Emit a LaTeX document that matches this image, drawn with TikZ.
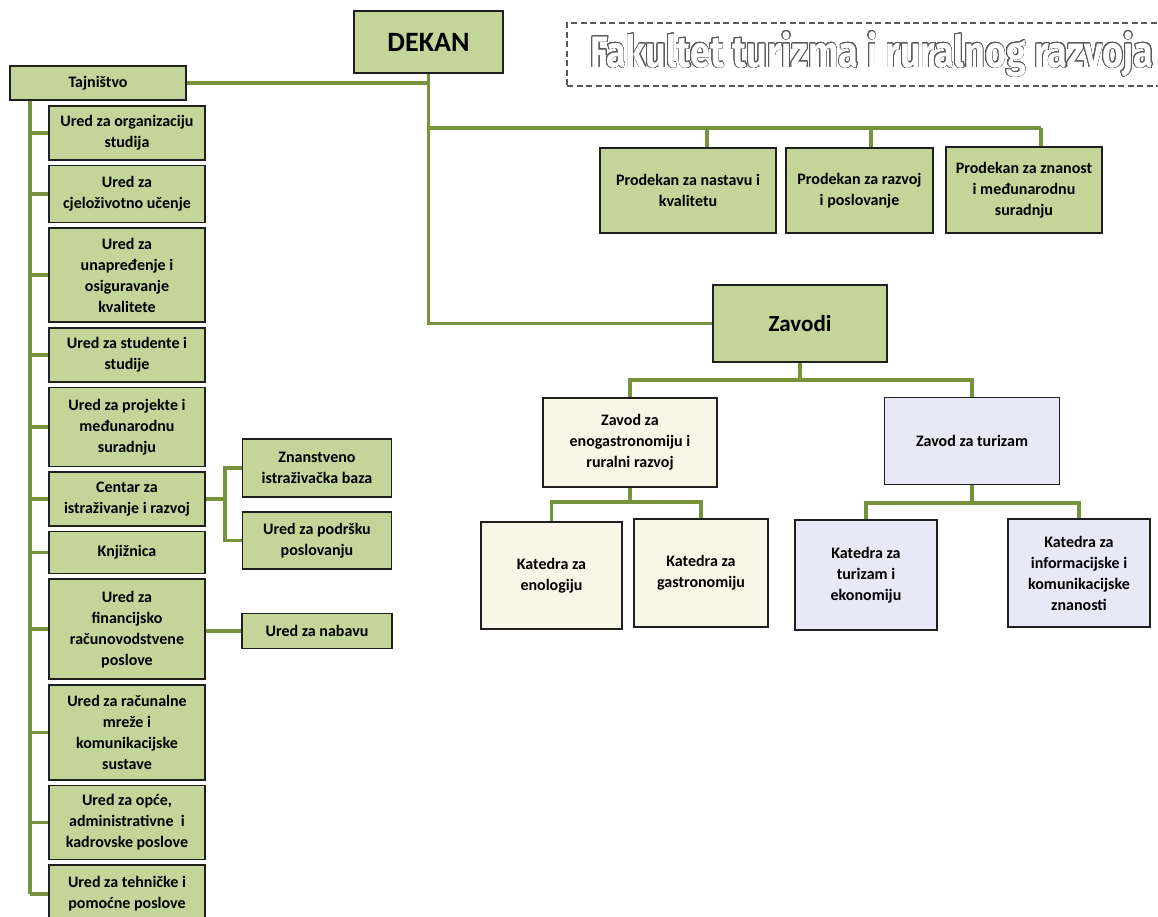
\documentclass[tikz,border=0pt]{standalone}
\usepackage{fontspec}
\setmainfont{Carlito}
\newfontfamily\naslovfont{Fira Sans}[FakeStretch=0.82]
\usepackage{contour}
\usetikzlibrary{positioning,calc}
\definecolor{greenfill}{HTML}{C4D59A}
\definecolor{creamfill}{HTML}{F8F6E6}
\definecolor{lilacfill}{HTML}{E8E8F7}
\definecolor{linkgreen}{HTML}{76923C}
\definecolor{boxline}{HTML}{1F1F1F}
\definecolor{titleline}{HTML}{5A5A5A}
\newcommand{\boxfont}{\fontsize{16}{21}\selectfont\bfseries}
\contourlength{0.75pt}
\contournumber{24}

\begin{document}
\begin{tikzpicture}[x=1pt, y=-1pt, node distance=4pt]
\tikzstyle{box}=[draw=boxline, line width=1.6pt, fill=greenfill, align=center, inner sep=2pt, font=\boxfont]
\tikzstyle{ured}=[box, minimum width=156pt]
\tikzstyle{cream}=[box, fill=creamfill]
\tikzstyle{lilac}=[box, fill=lilacfill]
\tikzstyle{link}=[draw=linkgreen, line width=3.5pt]
\tikzstyle{titlebox}=[draw=titleline, line width=1.4pt, dash pattern=on 6pt off 3.5pt, minimum width=610pt, minimum height=63pt, text=white, font=\naslovfont\bfseries\fontsize{44}{44}\selectfont]
\useasboundingbox (0,0) rectangle (1158,917);
% top
\node[titlebox]  (title) at (872,54.5)  {\contour{titleline}{Fakultet turizma i ruralnog razvoja}};
\node[box, minimum width=149pt, minimum height=62pt, font=\fontsize{28}{30}\selectfont\bfseries] (dekan) at (428.5,42) {DEKAN};
\node[box, minimum width=176pt, minimum height=34pt] (taj) at (98,83) {Tajništvo};
% prodekani
\node[box, minimum width=176pt, minimum height=85pt] (p1) at (688,190.5) {Prodekan za nastavu i\\kvalitetu};
\node[box, minimum width=147pt, minimum height=85pt] (p2) at (859.5,190.5) {Prodekan za razvoj\\i poslovanje};
\node[box, minimum width=156pt, minimum height=86pt] (p3) at (1024,190) {Prodekan za znanost\\i međunarodnu\\suradnju};
% zavodi
\node[box, minimum width=174pt, minimum height=77pt, font=\fontsize{23}{26}\selectfont\bfseries] (zavodi) at (800,323.5) {Zavodi};
\node[cream, minimum width=174pt, minimum height=89pt] (zeno) at (630,442.5) {Zavod za\\enogastronomiju i\\ruralni razvoj};
\node[lilac, minimum width=175pt, minimum height=87pt] (ztur) at (972,441) {Zavod za turizam};
\node[cream, minimum width=141pt, minimum height=107pt] (keno) at (551.5,575.5) {Katedra za\\enologiju};
\node[cream, minimum width=134pt, minimum height=108pt] (kgas) at (701,573) {Katedra za\\gastronomiju};
\node[lilac, minimum width=142pt, minimum height=110pt] (ktur) at (866,575) {Katedra za\\turizam i\\ekonomiju};
\node[lilac, minimum width=142pt, minimum height=108pt] (kinf) at (1079,573) {Katedra za\\informacijske i\\komunikacijske\\znanosti};
% tajnistvo
\node[ured, minimum height=54pt]  (u1) at (127,133)   {Ured za organizaciju\\studija};
\node[ured, minimum height=57pt]  (u2) [below=of u1]  {Ured za\\cjeloživotno učenje};
\node[ured, minimum height=94pt]  (u3) [below=of u2]  {Ured za\\unapređenje i\\osiguravanje\\kvalitete};
\node[ured, minimum height=54pt]  (u4) [below=of u3]  {Ured za studente i\\studije};
\node[ured, minimum height=79pt]  (u5) [below=of u4]  {Ured za projekte i\\međunarodnu\\suradnju};
\node[ured, minimum height=54pt]  (u6) [below=of u5]  {Centar za\\istraživanje i razvoj};
\node[ured, minimum height=42pt]  (u7) [below=of u6]  {Knjižnica};
\node[ured, minimum height=100pt] (u8) [below=of u7]  {Ured za\\financijsko\\računovodstvene\\poslove};
\node[ured, minimum height=95pt]  (u9) [below=of u8]  {Ured za računalne\\mreže i\\komunikacijske\\sustave};
\node[ured, minimum height=74pt]  (u10) [below=of u9] {Ured za opće,\\administrativne\ \ i\\kadrovske poslove};
\node[ured, minimum height=58pt]  (u11) [below=of u10] {Ured za tehničke i\\pomoćne poslove};
\node[box, minimum width=149pt, minimum height=58pt] (znan) at (317,468) {Znanstveno\\istraživačka baza};
\node[box, minimum width=149pt, minimum height=57pt] (podr) at (317,540.5) {Ured za podršku\\poslovanju};
\node[box, minimum width=150pt, minimum height=35pt] (nabava) at (317,631) {Ured za nabavu};
% joints
\coordinate (spine) at (30,0);
\coordinate (cj) at (225,0);
\coordinate (pj1) at (707,128);
\coordinate (pj2) at (871,128);
\coordinate (pj3) at (1041,128);
\coordinate (zbus) at (0,380);
\coordinate (ebus) at (0,502);
\coordinate (tbus) at (0,503);
% links
\draw[link] (taj.east) -- (taj.east -| dekan.south);
\draw[link] (dekan.south) |- (zavodi.west);
\draw[link] (dekan.south |- pj1) -- (pj3);
\foreach \j/\p in {pj1/p1, pj2/p2, pj3/p3}
  \draw[link] (\j) -- (\j |- \p.north);
\draw[link] (spine |- taj.south) -- (spine |- u11.west);
\foreach \i in {1,...,11}
  \draw[link] (spine |- u\i.west) -- (u\i.west);
\draw[link] (u6.east) -- (u6.east -| cj);
\draw[link] (znan.west) -| (cj |- podr.west) -- (podr.west);
\draw[link] (u8.east |- nabava.west) -- (nabava.west);
%
\draw[link] (zavodi.south) -- (zavodi.south |- zbus);
\draw[link] (zeno.north) |- (ztur.north |- zbus) -- (ztur.north);
\draw[link] (zeno.south) -- (zeno.south |- ebus);
\draw[link] (keno.north) |- (kgas.north |- ebus) -- (kgas.north);
\draw[link] (ztur.south) -- (ztur.south |- tbus);
\draw[link] (ktur.north) |- (kinf.north |- tbus) -- (kinf.north);
\end{tikzpicture}
\end{document}
